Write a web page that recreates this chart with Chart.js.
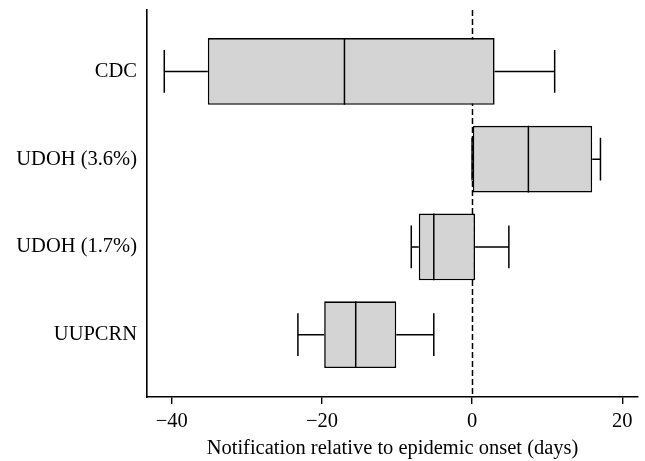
<!DOCTYPE html>
<html>
<head>
<meta charset="utf-8">
<script src="https://cdn.jsdelivr.net/npm/chart.js@4"></script>
<style>
  html, body { margin: 0; padding: 0; background: #fff; }
  #wrap { width: 645px; height: 461px; }
</style>
</head>
<body>
<div id="wrap"><canvas id="chart"></canvas></div>
<script>
// Box plot data (days relative to epidemic onset)
const categories = ['CDC', 'UDOH (3.6%)', 'UDOH (1.7%)', 'UUPCRN'];
const whiskerLow = [-41, 0, -8.1, -23.2];
const q1 = [-35.2, 0, -7.1, -19.7];
const medians = [-17, 7.5, -5.1, -15.5];
const q3 = [3, 16, 0.4, -10.1];
const whiskerHigh = [11, 17.1, 4.9, -5.1];
const xTicks = [-40, -20, 0, 20];
const onsetDay = 0;

const serif = "'Liberation Serif', 'DejaVu Serif', serif";

// whiskers, caps, medians and the onset line
const boxPlugin = {
  id: 'boxWhiskers',
  beforeDatasetsDraw(chart) {
    const { ctx, chartArea, scales } = chart;
    const x = Math.round(scales.x.getPixelForValue(onsetDay)) + 0.5;
    ctx.save();
    ctx.strokeStyle = '#000';
    ctx.lineWidth = 1.5;
    ctx.setLineDash([6, 3]);
    ctx.beginPath();
    ctx.moveTo(x, chartArea.top);
    ctx.lineTo(x, chartArea.bottom);
    ctx.stroke();
    ctx.restore();
  },
  afterDatasetsDraw(chart) {
    const { ctx, scales } = chart;
    const meta = chart.getDatasetMeta(0);
    ctx.save();
    ctx.strokeStyle = '#000';
    ctx.lineWidth = 1.5;
    categories.forEach((c, i) => {
      const bar = meta.data[i];
      const y = scales.y.getPixelForValue(i + 1);
      const h = bar.height;
      const cap = h * 0.32;
      const px = v => scales.x.getPixelForValue(v);
      ctx.beginPath();
      // median
      ctx.moveTo(px(medians[i]), y - h / 2);
      ctx.lineTo(px(medians[i]), y + h / 2);
      // whiskers
      ctx.moveTo(px(whiskerLow[i]), y);
      ctx.lineTo(px(q1[i]), y);
      ctx.moveTo(px(q3[i]), y);
      ctx.lineTo(px(whiskerHigh[i]), y);
      // caps
      ctx.moveTo(px(whiskerLow[i]), y - cap);
      ctx.lineTo(px(whiskerLow[i]), y + cap);
      ctx.moveTo(px(whiskerHigh[i]), y - cap);
      ctx.lineTo(px(whiskerHigh[i]), y + cap);
      ctx.stroke();
    });
    ctx.restore();
  }
};

const chart = new Chart(document.getElementById('chart'), {
  type: 'bar',
  data: {
    datasets: [{
      data: categories.map((c, i) => ({ y: i + 1, x: [q1[i], q3[i]] })),
      backgroundColor: '#d4d4d4',
      borderColor: '#000',
      borderWidth: 1.6,
      borderSkipped: false,
      barPercentage: 0.76,
      categoryPercentage: 1
    }]
  },
  plugins: [boxPlugin],
  options: {
    indexAxis: 'y',
    responsive: true,
    maintainAspectRatio: false,
    animation: false,
    layout: { padding: { top: 10, right: 7, left: 0, bottom: 0 } },
    plugins: {
      legend: { display: false },
      tooltip: { enabled: false }
    },
    scales: {
      x: {
        type: 'linear',
        min: -43.3,
        max: 22.1,
        afterBuildTicks: axis => { axis.ticks = xTicks.map(v => ({ value: v })); },
        afterFit: axis => { axis.height = 64; },
        grid: { display: true, drawOnChartArea: false, drawTicks: true, tickLength: 7, color: '#000', lineWidth: 1.4 },
        border: { display: true, color: '#000', width: 1.6 },
        ticks: {
          color: '#000',
          padding: 5,
          font: { family: serif, size: 20.5 },
          callback: v => (v < 0 ? '\u2212' + Math.abs(v) : String(v))
        },
        title: {
          display: true,
          text: 'Notification relative to epidemic onset (days)',
          color: '#000',
          padding: { top: 0, bottom: 0 },
          font: { family: serif, size: 20.5 }
        }
      },
      y: {
        type: 'linear',
        reverse: true,
        offset: false,
        min: 0.3,
        max: 4.71,
        afterBuildTicks: axis => { axis.ticks = categories.map((c, i) => ({ value: i + 1 })); },
        afterFit: axis => {
          axis.width = 147;
          axis.paddingTop = 0;
          axis.paddingBottom = 0;
        },
        grid: { display: false, drawTicks: false, offset: false },
        border: { display: true, color: '#000', width: 1.6 },
        ticks: {
          color: '#000',
          padding: 10,
          font: { family: serif, size: 20.5 },
          callback: v => categories[v - 1]
        }
      }
    }
  }
});
</script>
</body>
</html>
